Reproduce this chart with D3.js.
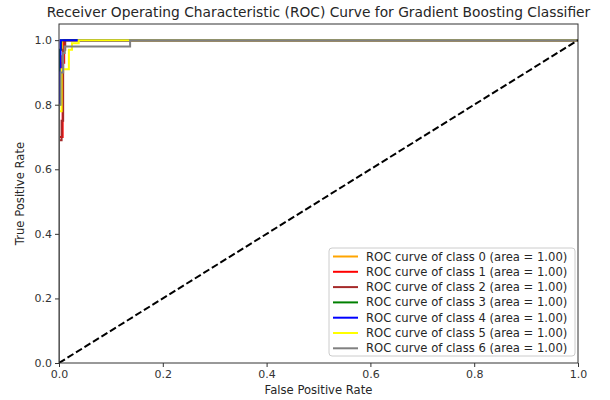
<!DOCTYPE html>
<html>
<head>
<meta charset="utf-8">
<script src="https://cdn.jsdelivr.net/npm/d3@7"></script>
<style>
  body { margin: 0; background: #fff; }
  svg text { font-family: "DejaVu Sans", sans-serif; fill: #262626; }
</style>
</head>
<body>
<div id="chart"></div>
<script>
// ROC step points per class, [fpr, tpr]
const classNames = ['0', '1', '2', '3', '4', '5', '6'];
const classColors = ['orange', 'red', 'brown', 'green', 'blue', 'yellow', 'gray'];
const classAreas = [1.00, 1.00, 1.00, 1.00, 1.00, 1.00, 1.00];

const roc0 = [[0, 0], [0, 0.80], [0.004, 0.80], [0.004, 0.95], [0.008, 0.95], [0.008, 1], [1, 1]];
const roc1 = [[0, 0], [0, 0.70], [0.007, 0.70], [0.007, 0.93], [0.010, 0.93], [0.010, 1], [1, 1]];
const roc2 = [[0, 0], [0, 0.69], [0.005, 0.69], [0.005, 0.75], [0.008, 0.75], [0.008, 0.97], [0.012, 0.97], [0.012, 1], [1, 1]];
const roc3 = [[0, 0], [0, 0.97], [0.004, 0.97], [0.004, 1], [1, 1]];
const roc4 = [[0, 0], [0, 0.90], [0.003, 0.90], [0.003, 1], [1, 1]];
const roc5 = [[0, 0], [0, 0.78], [0.005, 0.78], [0.005, 0.91], [0.019, 0.91], [0.019, 0.97], [0.025, 0.97], [0.025, 0.99], [0.038, 0.99], [0.038, 1], [1, 1]];
const roc6 = [[0, 0], [0, 0.80], [0.003, 0.80], [0.003, 0.90], [0.008, 0.90], [0.008, 0.96], [0.011, 0.96], [0.011, 0.98], [0.137, 0.98], [0.137, 1], [1, 1]];
const rocCurves = [roc0, roc1, roc2, roc3, roc4, roc5, roc6];

const tickValues = [0, 0.2, 0.4, 0.6, 0.8, 1.0];

const width = 610, height = 400;
const margin = { top: 24, right: 32, bottom: 37, left: 59 };

const svg = d3.select('#chart').append('svg')
  .attr('width', width)
  .attr('height', height);

const x = d3.scaleLinear().domain([0, 1]).range([margin.left, width - margin.right]);
const y = d3.scaleLinear().domain([0, 1.05]).range([height - margin.bottom, margin.top]);

// clip to the axes box
svg.append('clipPath').attr('id', 'plot-clip')
  .append('rect')
  .attr('x', x(0)).attr('y', y(1.05))
  .attr('width', x(1) - x(0)).attr('height', y(0) - y(1.05));

const line = d3.line().x(d => x(d[0])).y(d => y(d[1]));

const plot = svg.append('g').attr('clip-path', 'url(#plot-clip)');

rocCurves.forEach((pts, i) => {
  plot.append('path')
    .datum(pts)
    .attr('d', line)
    .attr('fill', 'none')
    .attr('stroke', classColors[i])
    .attr('stroke-width', 2);
});

// chance diagonal
plot.append('path')
  .datum([[0, 0], [1, 1]])
  .attr('d', line)
  .attr('fill', 'none')
  .attr('stroke', '#000')
  .attr('stroke-width', 2)
  .attr('stroke-dasharray', '7,3');

// axes
const xAxis = svg.append('g')
  .attr('transform', `translate(0,${y(0)})`)
  .call(d3.axisBottom(x).tickValues(tickValues).tickFormat(d3.format('.1f')).tickSize(4).tickPadding(3));
const yAxis = svg.append('g')
  .attr('transform', `translate(${x(0)},0)`)
  .call(d3.axisLeft(y).tickValues(tickValues).tickFormat(d3.format('.1f')).tickSize(4).tickPadding(3));

[xAxis, yAxis].forEach(g => {
  g.select('.domain').remove();
  g.selectAll('line').attr('stroke', '#333');
  g.selectAll('text').attr('font-size', 11).style('fill', '#333');
});

// frame
svg.append('rect')
  .attr('x', x(0)).attr('y', y(1.05))
  .attr('width', x(1) - x(0)).attr('height', y(0) - y(1.05))
  .attr('fill', 'none')
  .attr('stroke', '#333')
  .attr('stroke-width', 1);

// labels
svg.append('text')
  .attr('x', (x(0) + x(1)) / 2).attr('y', 17)
  .attr('text-anchor', 'middle')
  .attr('font-size', 13.8)
  .text('Receiver Operating Characteristic (ROC) Curve for Gradient Boosting Classifier');

svg.append('text')
  .attr('x', (x(0) + x(1)) / 2).attr('y', 394)
  .attr('text-anchor', 'middle')
  .attr('font-size', 11.6)
  .text('False Positive Rate');

svg.append('text')
  .attr('transform', `translate(24,${(y(0) + y(1.05)) / 2}) rotate(-90)`)
  .attr('text-anchor', 'middle')
  .attr('font-size', 11.6)
  .text('True Positive Rate');

// legend
const legend = svg.append('g').attr('transform', 'translate(329,248)');
legend.append('rect')
  .attr('width', 246).attr('height', 108)
  .attr('rx', 3)
  .attr('fill', '#fff')
  .attr('fill-opacity', 0.8)
  .attr('stroke', '#ccc');

classNames.forEach((c, i) => {
  const ly = 8.5 + i * 15.3;
  legend.append('line')
    .attr('x1', 4).attr('x2', 29)
    .attr('y1', ly).attr('y2', ly)
    .attr('stroke', classColors[i])
    .attr('stroke-width', 2);
  legend.append('text')
    .attr('x', 37).attr('y', ly)
    .attr('dy', '0.35em')
    .attr('font-size', 11.6)
    .text(`ROC curve of class ${c} (area = ${classAreas[i].toFixed(2)})`);
});
</script>
</body>
</html>
